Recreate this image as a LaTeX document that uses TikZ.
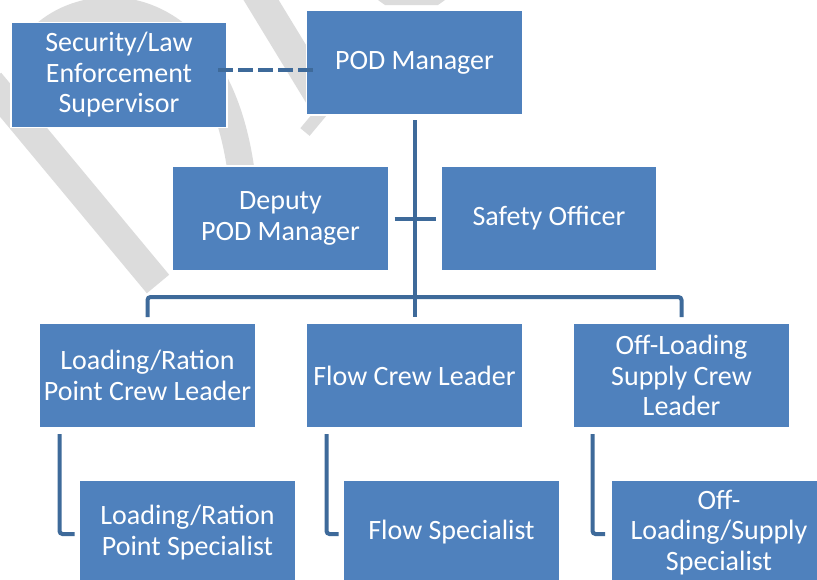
\documentclass[tikz,border=0pt]{standalone}
\usepackage{fontspec}
\setmainfont{Carlito}
\definecolor{boxblue}{HTML}{4F81BD}
\definecolor{lineblue}{HTML}{3E6A9A}
\definecolor{wmgray}{HTML}{DCDCDC}
\begin{document}
\begin{tikzpicture}[x=1pt,y=-1pt,
  box/.style={draw=white, line width=1.5pt, fill=boxblue, text=white,
    minimum width=216pt, minimum height=105pt, inner sep=1pt, outer sep=0pt,
    align=center, font=\fontsize{28}{30.5}\selectfont},
  conn/.style={draw=lineblue, line width=4pt, rounded corners=3pt},
  dashline/.style={draw=lineblue, line width=4pt, dash pattern=on 15pt off 5pt},
  wm/.style={draw=wmgray, line width=27pt}]
\useasboundingbox (0,0) rectangle (817,579);
\clip (0,0) rectangle (817,579);
\fill[white] (0,0) rectangle (817,579);
% watermark
\draw[wm] (25,60) .. controls (60,-15) and (228,-30) .. (244,200);
\draw[wm, line width=29pt] (-10,82) -- (158,284);
\draw[wm, line width=30pt] (255,-10) -- (322,100);
\draw[wm, line width=12pt] (325,108) -- (305,132);
\fill[wmgray] (378,0) -- (445,0) -- (438,5) -- (385,5) -- cycle;
% boxes
\node[box] (sec) at (119,75) {Security/Law\\Enforcement\\Supervisor};
\node[box] (pod) at (414.5,62.5) {POD Manager};
\node[box] (dep) at (280.5,218.5) {Deputy\\POD Manager};
\node[box] (saf) at (549,218.5) {Safety Officer};
\node[box] (l1) at (147.5,375.5) {Loading/Ration\\Point Crew Leader};
\node[box] (l2) at (414.5,375.5) {Flow Crew Leader};
\node[box] (l3) at (681.5,375.5) {Off-Loading\\Supply Crew\\Leader};
\node[box] (s1) at (187.5,532.5) {Loading/Ration\\Point Specialist};
\node[box] (s2) at (451.5,532.5) {Flow Specialist};
\node[box] (s3) at (719,532.5) {Off-\\Loading/Supply\\Specialist};
% connectors
\coordinate (bus) at (414.5,297);
\draw[dashline] ([xshift=-9pt,yshift=5pt]sec.east) -- ([xshift=7pt,yshift=-7.5pt]pod.west);
\draw[conn] ([yshift=-5pt]pod.south) -- (bus);
\draw[conn] ([xshift=6pt]dep.east) -- ([xshift=-5pt]saf.west);
\draw[conn] ([yshift=6pt]l1.north) |- (bus) -| ([yshift=6pt]l3.north);
\draw[conn] (bus) -- ([yshift=6pt]l2.north);
\draw[conn] ([xshift=20pt,yshift=-6pt]l1.south west) |- ([xshift=-5pt,yshift=-1.5pt]s1.west);
\draw[conn] ([xshift=20pt,yshift=-6pt]l2.south west) |- ([xshift=-5pt,yshift=-1.5pt]s2.west);
\draw[conn] ([xshift=19pt,yshift=-6pt]l3.south west) |- ([xshift=-6pt,yshift=-1.5pt]s3.west);
\end{tikzpicture}
\end{document}
